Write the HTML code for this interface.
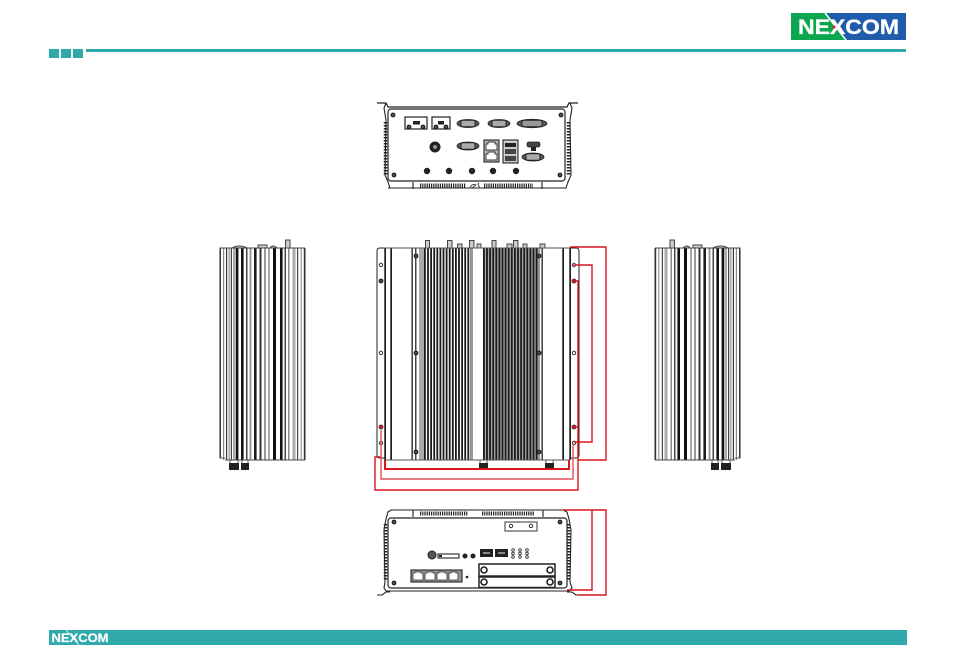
<!DOCTYPE html>
<html><head><meta charset="utf-8"><style>
html,body{margin:0;padding:0;background:#fff;width:954px;height:671px;overflow:hidden}
svg{display:block;filter:blur(.3px)}
text{font-family:"Liberation Sans",sans-serif;font-weight:bold}
</style></head><body>
<svg width="954" height="671" viewBox="0 0 954 671" xmlns="http://www.w3.org/2000/svg">
<defs>
<g id="s"><circle r="2.4" fill="#222"/><circle r="0.7" fill="#999"/></g>
<g id="h"><circle r="1.7" fill="#fff" stroke="#333" stroke-width="1"/></g>
<g id="db"><ellipse rx="11" ry="4" fill="#555" stroke="#222" stroke-width=".8"/><rect x="-7" y="-3.200" width="14" height="6.400" rx="1.500" fill="#aaa" stroke="#222" stroke-width="1"/></g>
<g id="side">
<rect x="220" y="248" width="85" height="212" fill="#fff"/>
<path d="M232 248q7-4 15 0M258 248v-3h9v3M270 248q3-4 7 0M285.500 248v-8h4.500v8" fill="#ccc" stroke="#444" stroke-width="1"/>
<rect x="219.500" y="248" width="1.500" height="210" fill="#333"/>
<rect x="223" y="248" width="1.200" height="212" fill="#888"/>
<rect x="226" y="248" width="1.200" height="212" fill="#333"/>
<rect x="228.500" y="248" width="2" height="212" fill="#aaa"/>
<rect x="231" y="248" width="1" height="212" fill="#444"/>
<rect x="233" y="248" width="2" height="212" fill="#aaa"/>
<rect x="235.700" y="248" width="2.700" height="212" fill="#111"/>
<rect x="241" y="248" width="2.600" height="212" fill="#111"/>
<rect x="246" y="248" width="1.500" height="212" fill="#444"/>
<rect x="249.500" y="248" width="2" height="212" fill="#999"/>
<rect x="254" y="248" width="2.600" height="212" fill="#1a1a1a"/>
<rect x="259.500" y="248" width="2" height="212" fill="#333"/>
<rect x="264" y="248" width="2" height="212" fill="#999"/>
<rect x="268" y="248" width="2" height="212" fill="#aaa"/>
<rect x="273" y="248" width="3" height="212" fill="#111"/>
<rect x="280" y="248" width="2.600" height="212" fill="#111"/>
<rect x="284.500" y="248" width="1.500" height="212" fill="#444"/>
<rect x="288" y="248" width="1.500" height="212" fill="#888"/>
<rect x="292.500" y="248" width="3" height="212" fill="#aaa"/>
<rect x="297" y="248" width="1.200" height="212" fill="#444"/>
<rect x="300.500" y="248" width="1.500" height="212" fill="#aaa"/>
<rect x="303.800" y="248" width="1.700" height="212" fill="#333"/>
<path d="M225 248H305M219.500 458H225M225 460H305M219.500 248H225" stroke="#444" stroke-width="1"/>
<rect x="229" y="463" width="10" height="7" fill="#222"/><rect x="241" y="463" width="8" height="7" fill="#222"/>
<path d="M230 460v3M238 460v3M242 460v3M248 460v3" stroke="#444" stroke-width=".8"/>
</g>
</defs>

<!-- Header -->
<rect x="791" y="13" width="115" height="27" fill="#1f5cab"/>
<path d="M791 13H827L846 40H791Z" fill="#0ca650"/>
<path d="M825 13L846 40" stroke="#fff" stroke-width="1.500"/>
<text x="798" y="34" font-size="21" fill="#fff" stroke="#fff" stroke-width=".3" textLength="101" lengthAdjust="spacingAndGlyphs">NEXCOM</text>
<circle cx="834" cy="27" r="1.500" fill="#e0202a"/>
<rect x="86" y="49" width="820" height="3" fill="#2fa9ac"/>
<rect x="49" y="49" width="10" height="9" fill="#2fa9ac"/>
<rect x="61" y="49" width="10" height="9" fill="#2fa9ac"/>
<rect x="73" y="49" width="10" height="9" fill="#2fa9ac"/>

<!-- Top view -->
<g fill="none" stroke="#222">
<path d="M377 103H386L388 107H565L567 107L569 103H578" stroke-width="1.300"/>
<path d="M386 103L384 108L386 120L385 175L388 182L390 188H566L568 182L571 175L570 120L572 108L570 103" stroke-width="1.100"/>
<rect x="388" y="109" width="177" height="72" rx="3" stroke-width="1.200"/>
<path d="M413 182V189M542 182V189M388 188H566" stroke-width="1.100"/>
</g>
<line x1="385.500" y1="122" x2="385.500" y2="175" stroke="#222" stroke-width="3.500" stroke-dasharray="1.500 1.500"/>
<line x1="568.500" y1="122" x2="568.500" y2="175" stroke="#222" stroke-width="3.500" stroke-dasharray="1.500 1.500"/>
<line x1="420" y1="185.500" x2="466" y2="185.500" stroke="#222" stroke-width="4" stroke-dasharray="1.200 1"/>
<line x1="484" y1="185.500" x2="533" y2="185.500" stroke="#222" stroke-width="4" stroke-dasharray="1.200 1"/>
<path d="M470 188q2-5 6-3l-4 3M480 188q-3-4-1-5" fill="none" stroke="#333" stroke-width=".9"/>
<use href="#s" x="393" y="115"/><use href="#s" x="561" y="115"/><use href="#s" x="394" y="175"/><use href="#s" x="560" y="175"/>
<g fill="#fff" stroke="#222" stroke-width="1.200">
<rect x="405" y="117" width="22" height="12"/><rect x="432" y="117" width="18" height="12"/>
</g>
<rect x="413" y="121" width="7" height="3.500" fill="#222"/><rect x="438" y="121" width="6" height="3.500" fill="#222"/>
<use href="#s" x="409" y="127"/><use href="#s" x="423" y="127"/><use href="#s" x="436" y="127"/><use href="#s" x="446" y="127"/>
<use href="#db" x="468" y="123.500"/><use href="#db" x="499" y="123.500"/>
<ellipse cx="532" cy="123.500" rx="15" ry="4.200" fill="#555" stroke="#222" stroke-width=".8"/><rect x="522" y="120.300" width="20" height="6.400" rx="1.500" fill="#999" stroke="#222" stroke-width="1"/>
<circle cx="435" cy="147" r="5.500" fill="#222"/><circle cx="435" cy="147" r="2" fill="#999"/>
<use href="#db" x="468" y="146"/>
<rect x="484" y="140" width="15" height="22" fill="#bbb" stroke="#222" stroke-width="1.100"/>
<path d="M486 150v-6h2v-2h7v2h2v6zM486 160v-6h2v-2h7v2h2v6z" fill="#fff" stroke="#333" stroke-width=".9"/>
<rect x="503" y="140" width="15" height="23" fill="#ccc" stroke="#222" stroke-width="1.100"/>
<rect x="505" y="143" width="11" height="4" fill="#222"/><rect x="505" y="149" width="11" height="5" fill="#444"/><rect x="505" y="156" width="11" height="5" fill="#444"/>
<rect x="527" y="142" width="13" height="5" rx="2" fill="#444" stroke="#222" stroke-width=".8"/>
<rect x="531" y="147" width="5" height="4" fill="#222"/>
<use href="#db" x="533" y="157"/>
<g fill="#222"><circle cx="427" cy="171" r="3.200"/><circle cx="449" cy="171" r="3.200"/><circle cx="472" cy="171" r="3.200"/><circle cx="493" cy="171" r="3.200"/><circle cx="516" cy="171" r="3.200"/></g>

<!-- Side views -->
<use href="#side"/>
<use href="#side" transform="translate(960 0) scale(-1 1)"/>

<!-- Middle view -->
<g fill="none" stroke="#222">
<path d="M385 248H380Q377 248 377 251V455Q377 458 380 458H385" stroke-width="1"/>
<path d="M570 248H576Q579 248 579 251V455Q579 458 576 458H570" stroke-width="1"/>
</g>
<g fill="#ccc" stroke="#444" stroke-width="1">
<path d="M425.500 248V240.500H429.500V248M447.500 248V240.500H452V248M469.500 248V240.500H474V248M492 248V240.500H496V248M513.500 248V240.500H518V248"/>
<path d="M457.500 248V244H462V248M477 248V244H481V248M507 248V244H512V248M523 248V244H527V248M540 248V244H545V248"/>
</g>
<g fill="#1d1d1d">
<rect x="384.300" y="248" width="1.700" height="212"/><rect x="390.300" y="248" width="1.700" height="212"/>
<rect x="411.500" y="248" width="1.300" height="212"/><rect x="541.500" y="248" width="1.300" height="212"/>
<rect x="562.300" y="248" width="1.700" height="212"/><rect x="569.300" y="248" width="1.700" height="212"/>
</g>
<rect x="419" y="248" width="5" height="212" fill="#aaa"/>
<rect x="415" y="248" width="1.500" height="212" fill="#444"/>
<rect x="471" y="248" width="2" height="212" fill="#999"/>
<rect x="538" y="248" width="2" height="212" fill="#999"/>
<line x1="424" y1="354" x2="471" y2="354" stroke="#1a1a1a" stroke-width="212" stroke-dasharray="1.800 1.300"/>
<line x1="483" y1="354" x2="538" y2="354" stroke="#aaa" stroke-width="212"/>
<line x1="483" y1="354" x2="538" y2="354" stroke="#1a1a1a" stroke-width="212" stroke-dasharray="1.800 1.300"/>
<path d="M385 248H570M385 460H570" stroke="#555" stroke-width="1.100"/>
<rect x="479" y="463" width="9" height="5" fill="#222"/><rect x="545" y="463" width="9" height="5" fill="#222"/>
<path d="M480 460v3M487 460v3M546 460v3M553 460v3" stroke="#444" stroke-width=".8"/>
<g fill="#333">
<use href="#s" x="416" y="256"/><use href="#s" x="539" y="256"/><use href="#s" x="416" y="353"/><use href="#s" x="539" y="353"/><use href="#s" x="416" y="452"/><use href="#s" x="539" y="452"/>
<use href="#h" x="381" y="265"/><use href="#s" x="381" y="281"/><use href="#h" x="381" y="353"/><use href="#s" x="381" y="427"/><use href="#h" x="381" y="443"/>
<use href="#h" x="574" y="265"/><use href="#s" x="574" y="281"/><use href="#h" x="574" y="353"/><use href="#s" x="574" y="427"/><use href="#h" x="574" y="443"/>
</g>

<!-- Bottom view -->
<g fill="none" stroke="#222">
<path d="M386 519L388 512L391 510H563L567 512L569 519L571 530L570 582L572 588L569 591H386L384 588L385 582L384 530Z" stroke-width="1.100"/>
<rect x="388" y="518" width="179" height="70" rx="3" stroke-width="1.200"/>
<path d="M413 510V517M543 510V517M377 595H382L386 592H390M567 592H572L576 595H578" stroke-width="1.100"/>
</g>
<line x1="420" y1="513.500" x2="468" y2="513.500" stroke="#222" stroke-width="4" stroke-dasharray="1.200 1"/>
<line x1="482" y1="513.500" x2="534" y2="513.500" stroke="#222" stroke-width="4" stroke-dasharray="1.200 1"/>
<line x1="385.500" y1="524" x2="385.500" y2="581" stroke="#222" stroke-width="3.500" stroke-dasharray="1.500 1.500"/>
<line x1="568.500" y1="524" x2="568.500" y2="581" stroke="#222" stroke-width="3.500" stroke-dasharray="1.500 1.500"/>
<use href="#s" x="394" y="522"/><use href="#s" x="560" y="522"/><use href="#s" x="394" y="583"/><use href="#s" x="560" y="583"/>
<rect x="505" y="522" width="32" height="9" fill="#fff" stroke="#333" stroke-width="1"/>
<use href="#h" x="511" y="526"/><use href="#h" x="531" y="526"/>
<circle cx="432" cy="555" r="4" fill="#555" stroke="#222"/>
<rect x="438" y="554" width="21" height="4" fill="#fff" stroke="#222" stroke-width="1.100"/><rect x="439" y="555" width="3" height="2" fill="#222"/>
<circle cx="465" cy="556" r="2.500" fill="#222"/><circle cx="473" cy="556" r="2.500" fill="#222"/>
<rect x="480" y="549" width="13" height="8" fill="#222"/><rect x="495" y="549" width="13" height="8" fill="#222"/>
<rect x="483" y="552" width="7" height="2" fill="#888"/><rect x="498" y="552" width="7" height="2" fill="#888"/>
<g fill="#fff" stroke="#333" stroke-width=".9">
<circle cx="513" cy="550" r="1.300"/><circle cx="513" cy="553.500" r="1.300"/><circle cx="513" cy="557" r="1.300"/>
<circle cx="520" cy="550" r="1.300"/><circle cx="520" cy="553.500" r="1.300"/><circle cx="520" cy="557" r="1.300"/>
<circle cx="527" cy="550" r="1.300"/><circle cx="527" cy="553.500" r="1.300"/><circle cx="527" cy="557" r="1.300"/>
</g>
<rect x="411" y="570" width="51" height="12" fill="#999" stroke="#222" stroke-width="1.100"/>
<path d="M413 580v-7h2v-1h6v1h2v7zM425 580v-7h2v-1h6v1h2v7zM437 580v-7h2v-1h6v1h2v7zM449 580v-7h2v-1h5v1h2v7z" fill="#fff" stroke="#333" stroke-width=".8"/>
<circle cx="467" cy="577" r="1.300" fill="#222"/>
<rect x="479" y="564" width="76" height="12" fill="#fff" stroke="#222" stroke-width="1.500"/>
<rect x="479" y="577" width="76" height="10.500" fill="#fff" stroke="#222" stroke-width="1.500"/>
<g fill="#fff" stroke="#222" stroke-width="1.600"><circle cx="484" cy="570" r="3"/><circle cx="550" cy="570" r="3"/><circle cx="484" cy="582" r="3"/><circle cx="550" cy="582" r="3"/></g>

<!-- Red connectors -->
<g fill="none" stroke="#d8141f" stroke-width="1.400">
<path d="M570 247H606V460H578"/>
<path d="M574 265H592V442H574"/>
<path d="M574 281H578V490H375V457H381"/>
<path d="M574 427H578"/>
<path d="M385 460V469H569V460" stroke-width="2"/>
<path d="M381 430V479H573V443" stroke="#e0505a"/>
<path d="M563 510H592V590H567"/>
<path d="M592 510H606V595H578"/>
</g>
<circle cx="381" cy="427" r="2" fill="#b3202c"/><circle cx="574" cy="427" r="2" fill="#b3202c"/><circle cx="574" cy="281" r="2" fill="#b3202c"/><circle cx="574" cy="265" r="1.500" fill="#d9606a"/>

<!-- Footer -->
<rect x="49" y="630" width="858" height="15" fill="#2fa9ac"/>
<text x="51.500" y="642" font-size="11.500" fill="#fff" stroke="#fff" stroke-width=".2" textLength="57" lengthAdjust="spacingAndGlyphs">NEXCOM</text>
<path d="M66 630L79 645" stroke="#fff" stroke-width=".7"/>
</svg>
</body></html>
